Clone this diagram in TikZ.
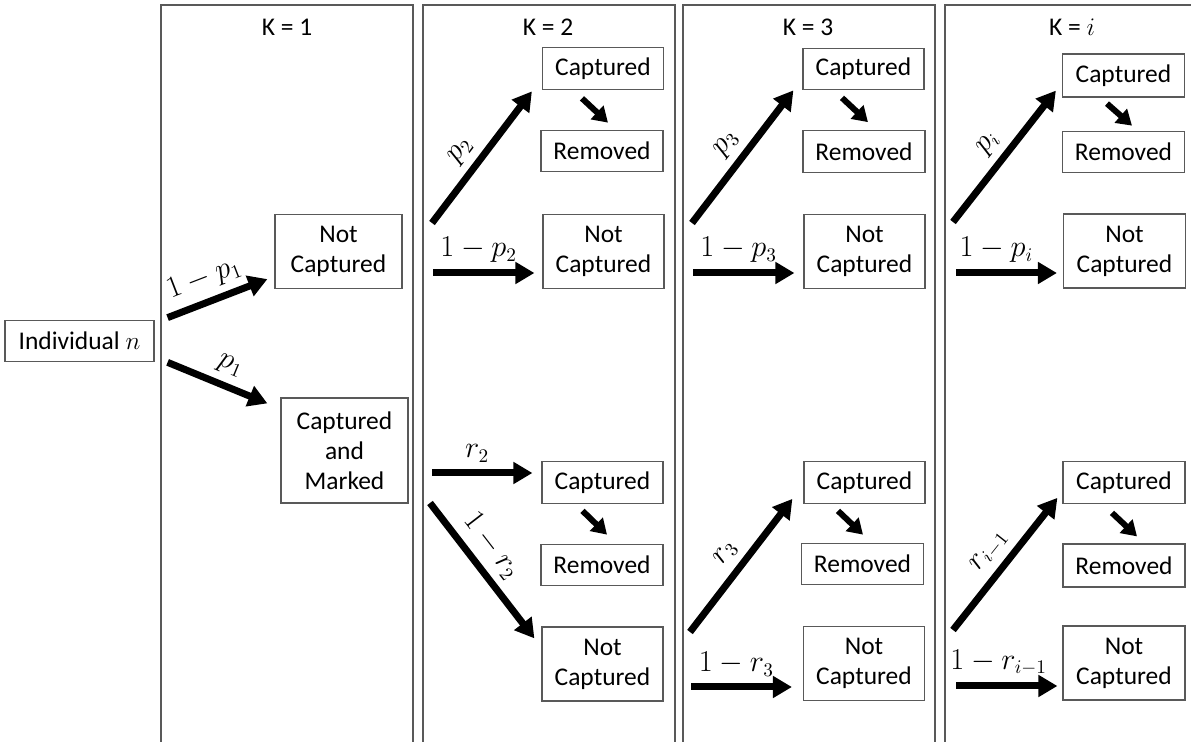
\documentclass[tikz,border=0pt]{standalone}
\usepackage[no-math]{fontspec}
\setmainfont{Carlito}
\usetikzlibrary{arrows.meta, calc}
\definecolor{frameGray}{HTML}{595959}

\begin{document}
\begin{tikzpicture}[
  x=0.02cm, y=-0.02cm,
  every node/.style={font=\fontsize{14.5}{17}\selectfont},
  panel/.style={draw=frameGray, line width=0.7pt},
  stagebox/.style={rectangle, draw=frameGray, line width=0.7pt, minimum width=2.42cm, minimum height=0.83cm, align=center, inner sep=1pt},
  twoline/.style={stagebox, minimum height=1.48cm},
  prob/.style={font=\fontsize{16}{19}\selectfont, inner sep=1pt},
  arrow/.style={-{Triangle[length=0.38cm, width=0.42cm]}, line width=0.14cm},
  smallarrow/.style={-{Triangle[length=0.3cm, width=0.36cm]}, line width=0.12cm},
]
\useasboundingbox (0,0) rectangle (1191,742);
\clip (0,0) rectangle (1191,742);

% Start
\node[stagebox, minimum width=2.98cm] (indiv) at (79.5,341) {Individual $n$};

% === K = 1 ===
\draw[panel] (161,5) rectangle (413,780);
\node (k1) at (287,27) {K = 1};
\node[twoline, minimum width=2.54cm] (notcap1) at (338.5,251.5) {Not\\Captured};
\node[stagebox, minimum width=2.54cm, minimum height=2.1cm] (marked1) at (344.5,450.5) {Captured\\and\\Marked};

\draw[arrow] ($(indiv.north east)+(13,-2)$) -- node[prob, sloped, above=3pt, pos=0.45] {$1-p_1$} ($(notcap1.south west)+(-7,-10)$);
\draw[arrow] ($(indiv.south east)+(13,0)$) -- node[prob, sloped, above=3pt, pos=0.55] {$p_1$} ($(marked1.north west)+(-13,6)$);

% === K = 2 ===
\draw[panel] (423,5) rectangle (675,780);
\node (k2) at (548,27) {K = 2};
\node[stagebox] (cap2a) at (603,68.5) {Captured};
\node[stagebox, minimum width=2.44cm] (rem2a) at (602,151) {Removed};
\node[twoline] (notcap2a) at (603.5,251.5) {Not\\Captured};
\node[stagebox] (cap2b) at (602.5,482.5) {Captured};
\node[stagebox, minimum width=2.44cm] (rem2b) at (602,565) {Removed};
\node[twoline] (notcap2b) at (602.5,664) {Not\\Captured};

\coordinate (s2a) at (432,223);
\coordinate (s2b) at (433,273);
\coordinate (s2c) at (432,473);
\coordinate (s2d) at (430,503);
\draw[arrow] (s2a) -- node[prob, sloped, above=3pt, pos=0.45] {$p_2$} ($(cap2a.south west)+(-10,1.5)$);
\draw[arrow] (s2b) -- node[prob, above=3pt, pos=0.45] {$1-p_2$} ($(s2b -| notcap2a.west)+(-8,0)$);
\draw[arrow] (s2c) -- node[prob, above=3pt, pos=0.45] {$r_2$} ($(s2c -| cap2b.west)+(-9,0)$);
\draw[arrow] (s2d) -- node[prob, sloped, above=3pt, pos=0.42] {$1-r_2$} ($(notcap2b.north west)+(-7,12)$);
\draw[smallarrow] ($(cap2a.south)+(-21,8.5)$) -- ($(rem2a.north)+(6,-7)$);
\draw[smallarrow] ($(cap2b.south)+(-20,7)$) -- ($(rem2b.north)+(5,-9)$);

% === K = 3 ===
\draw[panel] (683,5) rectangle (935,780);
\node (k3) at (808,27) {K = 3};
\node[stagebox] (cap3a) at (863.5,69) {Captured};
\node[stagebox, minimum width=2.44cm] (rem3a) at (864,151.5) {Removed};
\node[twoline] (notcap3a) at (864.5,251.5) {Not\\Captured};
\node[stagebox] (cap3b) at (864.5,482.5) {Captured};
\node[stagebox, minimum width=2.44cm] (rem3b) at (862.5,564) {Removed};
\node[twoline] (notcap3b) at (864,663.5) {Not\\Captured};

\coordinate (s3a) at (692,223);
\coordinate (s3b) at (693,273);
\coordinate (s3c) at (690,632);
\coordinate (s3d) at (691,687);
\draw[arrow] (s3a) -- node[prob, sloped, above=3pt] {$p_3$} ($(cap3a.south west)+(-9,0)$);
\draw[arrow] (s3b) -- node[prob, above=3pt, pos=0.45] {$1-p_3$} ($(s3b -| notcap3a.west)+(-9,0)$);
\draw[arrow] (s3c) -- node[prob, sloped, above=3pt] {$r_3$} ($(cap3b.south west)+(-11,-5)$);
\draw[arrow] (s3d) -- node[prob, above=3pt, pos=0.45] {$1-r_3$} ($(s3d -| notcap3b.west)+(-11,0)$);
\draw[smallarrow] ($(cap3a.south)+(-21.5,7.5)$) -- ($(rem3a.north)+(4,-8)$);
\draw[smallarrow] ($(cap3b.south)+(-26.5,7)$) -- ($(rem3b.north)+(0.5,-8)$);

% === K = i ===
\draw[panel] (945,5) rectangle (1250,780);
\node (k4) at (1072,27) {K = $i$};
\node[stagebox, minimum width=2.44cm, minimum height=0.86cm] (cap4a) at (1123.5,75.5) {Captured};
\node[stagebox, minimum width=2.44cm] (rem4a) at (1123.5,152) {Removed};
\node[twoline, minimum width=2.44cm] (notcap4a) at (1124.5,251) {Not\\Captured};
\node[stagebox, minimum width=2.44cm] (cap4b) at (1124,482.5) {Captured};
\node[stagebox, minimum width=2.44cm, minimum height=0.86cm] (rem4b) at (1124,565.5) {Removed};
\node[twoline, minimum width=2.44cm] (notcap4b) at (1124,663) {Not\\Captured};

\coordinate (s4a) at (953,222);
\coordinate (s4b) at (956,273);
\coordinate (s4c) at (953,630);
\coordinate (s4d) at (956,686);
\draw[arrow] (s4a) -- node[prob, sloped, above=3pt] {$p_i$} ($(cap4a.south west)+(-6,-7)$);
\draw[arrow] (s4b) -- node[prob, above=3pt, pos=0.4] {$1-p_i$} ($(s4b -| notcap4a.west)+(-6,0)$);
\draw[arrow] (s4c) -- node[prob, sloped, above=3pt] {$r_{i-1}$} ($(cap4b.south west)+(-5,-6)$);
\draw[arrow] (s4d) -- node[prob, above=3pt, pos=0.42] {$1-r_{i-1}$} ($(s4d -| notcap4b.west)+(-5,0)$);
\draw[smallarrow] ($(cap4a.south)+(-16.5,6)$) -- ($(rem4a.north)+(8.5,-5)$);
\draw[smallarrow] ($(cap4b.south)+(-12,9)$) -- ($(rem4b.north)+(13,-7)$);

\end{tikzpicture}
\end{document}
